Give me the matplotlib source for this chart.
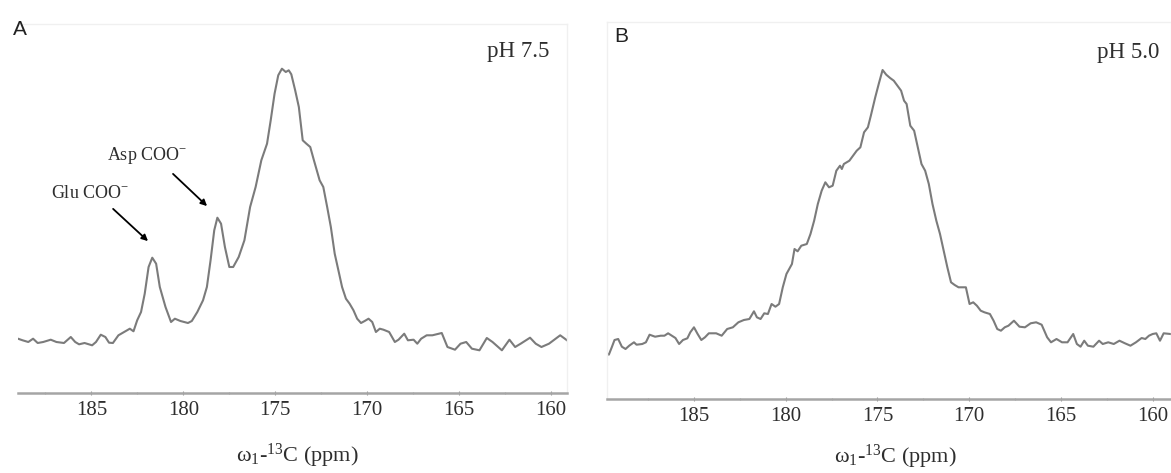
import matplotlib
matplotlib.use("Agg")
import matplotlib.pyplot as plt
from matplotlib.ticker import MultipleLocator

plt.rcParams['font.family'] = ['Liberation Serif', 'DejaVu Serif']
plt.rcParams['mathtext.fontset'] = 'custom'
plt.rcParams['mathtext.rm'] = 'Liberation Serif'
plt.rcParams['mathtext.it'] = 'Liberation Serif:italic'

# Pannello A - pH 7.5 (ppm, intensità in unità arbitrarie)
ppm_a = [188.99, 188.74, 188.43, 188.17, 187.92, 187.62, 187.21, 186.90, 186.49, 186.12,
         185.88, 185.67, 185.37, 184.96, 184.75, 184.49, 184.24, 184.04, 183.83, 183.53,
         183.22, 182.91, 182.71, 182.51, 182.30, 182.10, 181.89, 181.69, 181.48, 181.28,
         180.97, 180.67, 180.46, 180.16, 179.75, 179.54, 179.24, 178.93, 178.72, 178.52,
         178.32, 178.15, 177.95, 177.74, 177.50, 177.29, 176.99, 176.68, 176.37, 176.07,
         175.76, 175.45, 175.25, 175.04, 174.84, 174.64, 174.43, 174.27, 174.13, 173.92,
         173.72, 173.51, 173.31, 173.10, 172.90, 172.59, 172.39, 172.18, 171.98, 171.77,
         171.57, 171.37, 171.16, 170.96, 170.75, 170.55, 170.34, 170.14, 169.93, 169.73,
         169.53, 169.32, 169.12, 168.81, 168.50, 168.30, 167.99, 167.79, 167.48, 167.28,
         167.07, 166.77, 166.46, 165.95, 165.64, 165.23, 164.93, 164.62, 164.31, 163.90,
         163.50, 163.19, 162.68, 162.27, 161.96, 161.66, 161.15, 160.84, 160.53, 160.12,
         159.51, 159.14]
int_a = [54.3, 52.7, 51.0, 54.3, 50.0, 51.0, 53.3, 51.0, 50.0, 56.0,
         51.0, 48.7, 50.0, 47.7, 51.0, 58.3, 56.0, 50.3, 50.0, 57.7,
         61.0, 64.3, 61.7, 72.7, 81.0, 99.3, 126.0, 135.3, 129.3, 106.0,
         86.0, 71.0, 74.3, 72.0, 70.0, 72.0, 81.0, 92.7, 106.0, 132.7,
         162.7, 175.3, 169.3, 146.0, 126.0, 126.0, 136.0, 152.7, 186.0, 206.0,
         232.7, 249.3, 272.7, 299.3, 317.7, 324.3, 321.0, 322.7, 318.7, 302.7,
         286.0, 252.7, 249.3, 246.0, 232.7, 212.7, 206.0, 186.0, 166.0, 139.3,
         122.7, 106.0, 94.3, 89.3, 82.7, 74.3, 70.0, 72.0, 74.3, 71.0,
         61.0, 64.3, 63.3, 61.0, 51.0, 53.3, 59.3, 52.7, 53.3, 49.3,
         54.3, 57.7, 57.7, 60.0, 46.0, 43.3, 49.3, 51.0, 44.3, 42.7,
         55.0, 51.0, 42.7, 53.3, 46.0, 49.3, 55.3, 49.3, 46.0, 49.3,
         57.7, 52.7]

# Pannello B - pH 5.0
ppm_b = [189.74, 189.64, 189.48, 189.33, 189.13, 188.93, 188.73, 188.53, 188.27, 188.13,
         187.82, 187.62, 187.42, 187.12, 186.81, 186.61, 186.41, 186.21, 186.01, 185.81,
         185.60, 185.36, 185.20, 185.00, 184.80, 184.60, 184.40, 184.19, 183.79, 183.49,
         183.19, 182.88, 182.58, 182.28, 181.98, 181.73, 181.57, 181.37, 181.17, 180.97,
         180.77, 180.56, 180.36, 180.16, 179.96, 179.66, 179.52, 179.35, 179.15, 178.85,
         178.65, 178.45, 178.25, 178.04, 177.84, 177.64, 177.44, 177.24, 177.04, 176.94,
         176.83, 176.53, 176.33, 176.13, 175.93, 175.73, 175.52, 175.36, 175.12, 174.92,
         174.72, 174.52, 174.31, 174.11, 173.91, 173.71, 173.55, 173.41, 173.21, 173.00,
         172.80, 172.60, 172.40, 172.20, 172.00, 171.79, 171.59, 171.39, 171.19, 170.99,
         170.79, 170.58, 170.38, 170.18, 169.98, 169.78, 169.58, 169.37, 169.17, 168.87,
         168.67, 168.47, 168.27, 168.06, 167.86, 167.56, 167.26, 166.96, 166.65, 166.35,
         166.05, 165.75, 165.54, 165.24, 164.94, 164.64, 164.33, 164.13, 163.93, 163.73,
         163.53, 163.23, 162.92, 162.72, 162.42, 162.12, 161.81, 161.51, 161.21, 160.91,
         160.60, 160.40, 160.20, 160.00, 159.80, 159.60, 159.40, 159.03]
int_b = [45.7, 44.3, 51.7, 59.0, 60.0, 52.3, 50.0, 53.3, 56.7, 54.3,
         55.0, 56.7, 64.3, 62.3, 63.3, 63.3, 65.7, 63.3, 61.0, 55.0,
         59.0, 60.7, 66.7, 71.7, 65.0, 59.0, 61.7, 65.7, 65.7, 63.3,
         70.0, 71.7, 76.7, 79.0, 80.0, 87.7, 81.7, 80.0, 85.7, 85.0,
         95.0, 92.3, 95.0, 111.7, 125.0, 135.0, 150.0, 147.7, 153.3, 155.0,
         165.0, 178.3, 195.0, 208.3, 216.7, 211.7, 213.3, 228.3, 233.3, 230.0,
         235.0, 238.3, 243.3, 248.3, 251.7, 266.7, 271.7, 283.3, 301.7, 315.7,
         329.0, 324.3, 321.0, 318.3, 313.3, 308.3, 298.3, 295.0, 273.3, 268.3,
         251.7, 235.0, 228.3, 215.0, 195.0, 178.3, 165.0, 148.3, 131.7, 116.7,
         114.0, 111.7, 111.7, 111.7, 95.0, 96.7, 93.3, 88.3, 86.7, 85.0,
         78.3, 70.0, 68.3, 71.7, 73.3, 78.3, 72.3, 71.7, 75.7, 76.7,
         74.3, 61.7, 56.7, 60.0, 56.7, 56.7, 65.0, 55.0, 52.3, 58.3,
         53.3, 52.3, 58.3, 55.0, 56.7, 55.0, 58.3, 55.7, 53.3, 56.7,
         61.0, 60.0, 63.3, 65.0, 65.7, 58.3, 65.7, 65.0]

tick_labels = [185, 180, 175, 170, 165, 160]
line_col = '#7b7b7b'
txt_col = '#2e2e2e'

fig = plt.figure(figsize=(11.71, 4.73), dpi=100)
ax_a = fig.add_axes([18/1171, 80/473, 549/1171, 369/473])
ax_b = fig.add_axes([607/1171, 74/473, 564/1171, 377/473])


def stile(ax, xlim, ylim, label_xy):
    ax.set_xlim(*xlim)
    ax.set_ylim(0, ylim)
    ax.set_yticks([])
    ax.set_xticks(tick_labels)
    ax.set_xticklabels([str(t) for t in tick_labels])
    ax.xaxis.set_minor_locator(MultipleLocator(2.5))
    ax.tick_params(axis='x', which='major', length=3, width=0.8, direction='inout',
                   color='#999999', labelsize=15, labelcolor=txt_col, pad=4)
    ax.tick_params(axis='x', which='minor', length=2, width=0.8, direction='inout',
                   color='#aaaaaa')
    for s in ['top', 'right', 'left']:
        ax.spines[s].set_color('#f0f0f0')
        ax.spines[s].set_linewidth(1)
    ax.spines['bottom'].set_color('#a5a5a5')
    ax.spines['bottom'].set_linewidth(1.8)
    ax.set_xlabel(r'ω$_\mathrm{1}$-$^\mathrm{13}$C (ppm)', fontsize=16, color=txt_col)
    ax.xaxis.set_label_coords(*label_xy)


stile(ax_a, (188.99, 159.14), 369, (0.508, -0.132))
stile(ax_b, (189.74, 159.0), 377, (0.512, -0.116))
ax_a.spines['left'].set_visible(False)

ax_a.plot(ppm_a, int_a, color=line_col, lw=1.5)
ax_b.plot(ppm_b, int_b, color=line_col, lw=1.5)

# Etichette pH
ax_a.text(0.854, 0.911, 'pH 7.5', transform=ax_a.transAxes, fontsize=16.5,
          color=txt_col, ha='left', va='baseline')
ax_b.text(0.869, 0.905, 'pH 5.0', transform=ax_b.transAxes, fontsize=16.5,
          color=txt_col, ha='left', va='baseline')

# Annotazioni dei picchi
ax_a.text(187.2, 195, 'Glu COO$^{-}$', fontsize=13, color=txt_col, ha='left', va='baseline')
ax_a.text(184.15, 233, 'Asp COO$^{-}$', fontsize=13, color=txt_col, ha='left', va='baseline')
freccia = dict(arrowstyle='-|>', color='black', lw=1.3, mutation_scale=9)
ax_a.annotate('', xy=(181.81, 150), xytext=(183.93, 186), arrowprops=freccia)
ax_a.annotate('', xy=(178.60, 185), xytext=(180.67, 221), arrowprops=freccia)

# Lettere dei pannelli
fig.text(13/1171, 1 - 35/473, 'A', fontsize=15, family='Liberation Sans',
         color='#222222', ha='left', va='baseline')
fig.text(614/1171, 1 - 42/473, 'B', fontsize=15, family='Liberation Sans',
         color='#222222', ha='left', va='baseline')

fig.savefig('out.png', dpi=100)
